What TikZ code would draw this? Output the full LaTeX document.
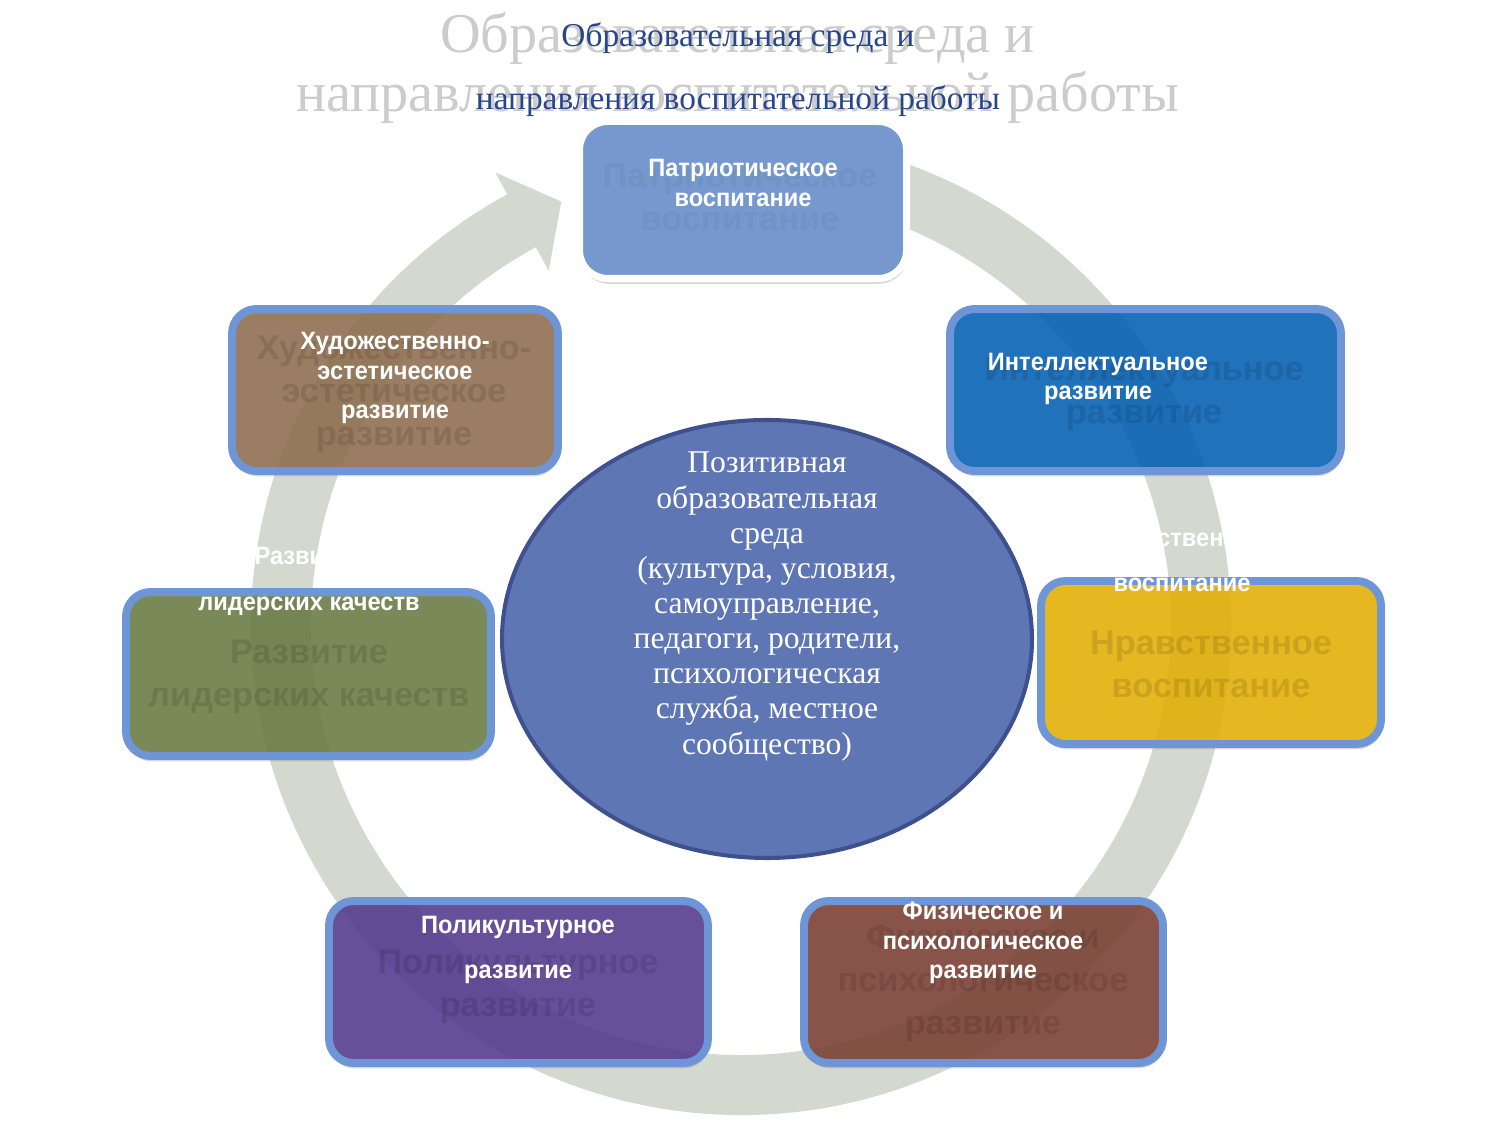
\documentclass[tikz,border=0pt]{standalone}
\usepackage{fontspec}
\setmainfont{Liberation Serif}
\setsansfont{Liberation Sans}
\newfontfamily\boxfont{Liberation Sans}[FakeStretch=0.94]
\usetikzlibrary{calc,shapes.geometric,shadows}

\definecolor{ringfill}{RGB}{211,217,206}
\definecolor{boxline}{RGB}{110,150,214}
\definecolor{patrfill}{RGB}{118,152,206}
\definecolor{intelfill}{RGB}{0,96,182}
\definecolor{artfill}{RGB}{143,110,77}
\definecolor{leadfill}{RGB}{104,124,66}
\definecolor{moralfill}{RGB}{231,177,1}
\definecolor{multifill}{RGB}{82,56,143}
\definecolor{physfill}{RGB}{122,61,49}
\definecolor{envfill}{RGB}{95,118,180}
\definecolor{envline}{RGB}{62,80,142}
\definecolor{titleblue}{RGB}{40,70,140}

\tikzset{
  box/.style n args={3}{draw=boxline, line width=4.5pt, fill=#1, fill opacity=0.85,
    rounded corners=14pt, minimum width=#2*0.02cm, minimum height=#3*0.02cm, inner sep=0pt,
    drop shadow={shadow xshift=0.5pt, shadow yshift=-3pt, opacity=0.3}},
  lbl/.style={text=white, align=center, font=\boxfont\bfseries\fontsize{14.3}{17}\selectfont},
  ghost/.style={text=black, text opacity=0.11, align=center, font=\sffamily\bfseries\fontsize{19.5}{24.4}\selectfont},
}

\begin{document}
\begin{tikzpicture}[x=0.02cm, y=0.02cm]
\useasboundingbox (0,0) rectangle (1500,1125);

\node[text=black!20, align=center, font=\fontsize{32}{34}\selectfont] (ghosttitle) at (737.5,1057)
  {Образовательная среда и\\направления воспитательной работы};

\coordinate (ring) at (741,500);
\fill[ringfill] ($(ring)+(78:490)$) arc[start angle=78, end angle=-241.5, radius=490]
  -- ($(ring)+(-241.5:515)$) -- ($(ring)+(-247:460)$) -- ($(ring)+(-241.5:403)$)
  -- ($(ring)+(-241.5:430)$) arc[start angle=-241.5, end angle=78, radius=430] -- cycle;

\node[ellipse, draw=envline, line width=2.3pt, fill=envfill, minimum width=530*0.02cm,
  minimum height=438*0.02cm, inner sep=0pt] (env) at (767,486) {};
\node[text=white, align=center, font=\fontsize{18}{20}\selectfont] (envtext) at (767,518.5)
  {Позитивная\\образовательная\\среда\\(культура, условия,\\самоуправление,\\педагоги, родители,\\психологическая\\служба, местное\\сообщество)};

\node[draw=white, line width=4pt, fill=patrfill, rounded corners=16pt, minimum width=327*0.02cm,
  minimum height=157*0.02cm, inner sep=0pt, drop shadow={shadow xshift=0.5pt, shadow yshift=-3pt, opacity=0.3}]
  (patr) at (743,925) {};
\node[box={intelfill}{391}{162}] (intel) at (1145.5,735) {};
\node[box={artfill}{326}{162}] (art) at (395,735) {};
\node[box={leadfill}{365}{164}] (lead) at (308.5,451) {};
\node[box={moralfill}{340}{163}] (moral) at (1211,462.5) {};
\node[box={multifill}{379}{162}] (multi) at (518.5,143) {};
\node[box={physfill}{359}{162}] (phys) at (983.5,143) {};

\node[ghost, text opacity=0.04] (patrghost) at (740,927.5) {Патриотическое\\воспитание};
\node[ghost] (intelghost) at (1144,731.5) {Интеллектуальное\\развитие};
\node[ghost] (artghost) at (394,731) {Художественно-\\эстетическое\\развитие};
\node[ghost] (leadghost) at (309,448.5) {Развитие\\лидерских качеств};
\node[ghost] (moralghost) at (1211,460.5) {Нравственное\\воспитание};
\node[ghost] (multighost) at (518,138.5) {Поликультурное\\развитие};
\node[ghost] (physghost) at (983,141.5) {Физическое и\\психологическое\\развитие};

\node[lbl] (patrtext) at (743,942) {Патриотическое\\воспитание};
\node[lbl] (inteltext) at (1098,746) {Интеллектуальное\\развитие};
\node[lbl] (arttext) at (395,747) {Художественно-\\эстетическое\\[5.6pt]развитие};
\node[lbl] (leadtext) at (309,543.5) {Развитие\\[9.6pt]лидерских качеств};
\node[lbl] (moraltext) at (1182,564.5) {Нравственное\\[8.5pt]воспитание};
\node[lbl] (multitext) at (518,175) {Поликультурное\\[9pt]развитие};
\node[lbl] (phystext) at (983,182) {Физическое и\\психологическое\\развитие};

\node[text=titleblue, align=center, font=\fontsize{19}{35.7}\selectfont] (title) at (738,1055.5)
  {Образовательная среда и\\направления воспитательной работы};
\end{tikzpicture}
\end{document}
